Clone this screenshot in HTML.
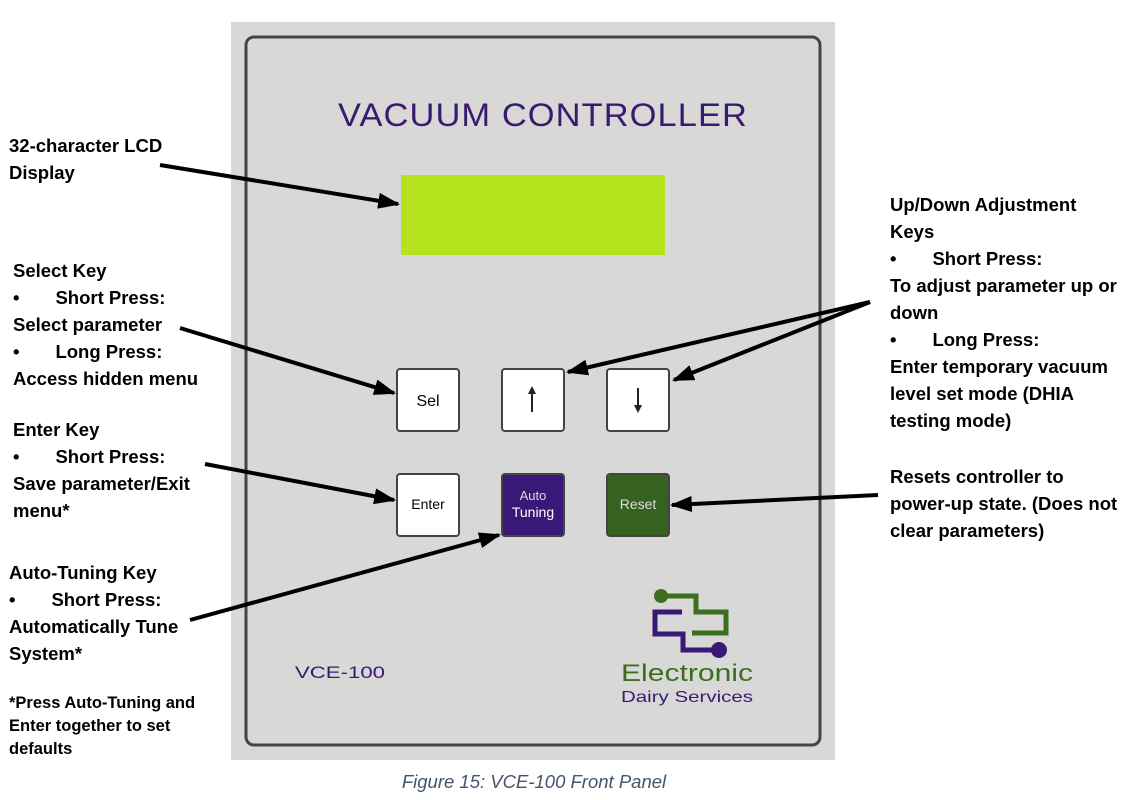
<!DOCTYPE html>
<html><head><meta charset="utf-8"><style>
body{margin:0;width:1136px;height:800px;background:#fff;overflow:hidden;font-family:"Liberation Sans",sans-serif}
.t{position:absolute;font-family:"Liberation Sans",sans-serif;font-weight:bold;font-size:18.5px;line-height:27px;color:#000;white-space:nowrap}
</style></head><body>
<svg width="1136" height="800" style="position:absolute;left:0;top:0">
<defs>
<marker id="b" viewBox="0 0 10 10" markerWidth="22" markerHeight="16" refX="9" refY="5" orient="auto" markerUnits="userSpaceOnUse" preserveAspectRatio="none"><path d="M0,0 L10,5 L0,10 Z" fill="#000"/></marker></defs>
<rect x="231" y="22" width="604" height="738" fill="#d8d8d6"/>
<rect x="246" y="37" width="574" height="708" rx="8" fill="none" stroke="#444" stroke-width="3"/>
<text x="543" y="126" text-anchor="middle" font-family="Liberation Sans" font-size="32" fill="#3a1a70" letter-spacing="1" textLength="410" lengthAdjust="spacingAndGlyphs">VACUUM CONTROLLER</text>
<rect x="401" y="175" width="264" height="80" fill="#b5e41e"/>
<g stroke="#444" stroke-width="2">
<rect x="397" y="369" width="62" height="62" rx="3" fill="#fff"/>
<rect x="502" y="369" width="62" height="62" rx="3" fill="#fff"/>
<rect x="607" y="369" width="62" height="62" rx="3" fill="#fff"/>
<rect x="397" y="474" width="62" height="62" rx="3" fill="#fff"/>
<rect x="502" y="474" width="62" height="62" rx="3" fill="#3a1878"/>
<rect x="607" y="474" width="62" height="62" rx="3" fill="#356221"/>
</g>
<text x="428" y="406" text-anchor="middle" font-size="16" fill="#000">Sel</text>
<line x1="532" y1="391" x2="532" y2="412" stroke="#222" stroke-width="2"/><path d="M528,394 L532,386 L536,394Z" fill="#222"/>
<line x1="638" y1="388" x2="638" y2="408" stroke="#222" stroke-width="2"/><path d="M634,405 L638,413 L642,405Z" fill="#222"/>
<text x="428" y="509" text-anchor="middle" font-size="14" fill="#000">Enter</text>
<text x="533" y="500" text-anchor="middle" font-size="13" fill="#ddd">Auto</text>
<text x="533" y="517" text-anchor="middle" font-size="14" fill="#fff">Tuning</text>
<text x="638" y="509" text-anchor="middle" font-size="14" fill="#ddd">Reset</text>
<g fill="none" stroke-width="5">
<path d="M660,596 H696 V612 H726 V633 H692" stroke="#3c6e1f"/>
<path d="M682,612 H655 V634 H683 V650 H718" stroke="#3a1878"/>
</g>
<circle cx="661" cy="596" r="7" fill="#3c6e1f"/><circle cx="719" cy="650" r="8" fill="#3a1878"/>
<text x="687" y="681" text-anchor="middle" font-size="24" fill="#3c6e1f" textLength="132" lengthAdjust="spacingAndGlyphs">Electronic</text>
<text x="687" y="702" text-anchor="middle" font-size="16" fill="#3a1878" textLength="132" lengthAdjust="spacingAndGlyphs">Dairy Services</text>
<text x="340" y="678" text-anchor="middle" font-size="17" fill="#3a1878" textLength="90" lengthAdjust="spacingAndGlyphs">VCE-100</text>
<g stroke="#000" stroke-width="4" marker-end="url(#b)">
<line x1="160" y1="165" x2="398" y2="204"/>
<line x1="180" y1="328" x2="394" y2="393"/>
<line x1="205" y1="464" x2="394" y2="500"/>
<line x1="190" y1="620" x2="499" y2="535"/>
<line x1="870" y1="302" x2="568" y2="372"/>
<line x1="870" y1="302" x2="674" y2="380"/>
<line x1="878" y1="495" x2="672" y2="505"/>
</g>
</svg>
<div class="t" style="left:9px;top:132px">32-character LCD<br>Display</div>
<div class="t" style="left:13px;top:257px">Select Key<br>•&nbsp;&nbsp;&nbsp;&nbsp;&nbsp;&nbsp;&nbsp;Short Press:<br>Select parameter<br>•&nbsp;&nbsp;&nbsp;&nbsp;&nbsp;&nbsp;&nbsp;Long Press:<br>Access hidden menu</div>
<div class="t" style="left:13px;top:416px">Enter Key<br>•&nbsp;&nbsp;&nbsp;&nbsp;&nbsp;&nbsp;&nbsp;Short Press:<br>Save parameter/Exit<br>menu*</div>
<div class="t" style="left:9px;top:559px">Auto-Tuning Key<br>•&nbsp;&nbsp;&nbsp;&nbsp;&nbsp;&nbsp;&nbsp;Short Press:<br>Automatically Tune<br>System*</div>
<div class="t" style="left:9px;top:692px;font-size:16.5px;line-height:23px">*Press Auto-Tuning and<br>Enter together to set<br>defaults</div>
<div class="t" style="left:890px;top:191px">Up/Down Adjustment<br>Keys<br>•&nbsp;&nbsp;&nbsp;&nbsp;&nbsp;&nbsp;&nbsp;Short Press:<br>To adjust parameter up or<br>down<br>•&nbsp;&nbsp;&nbsp;&nbsp;&nbsp;&nbsp;&nbsp;Long Press:<br>Enter temporary vacuum<br>level set mode (DHIA<br>testing mode)</div>
<div class="t" style="left:890px;top:463px">Resets controller to<br>power-up state. (Does not<br>clear parameters)</div>
<div style="position:absolute;left:0;width:1068px;top:771px;text-align:center;font-style:italic;font-size:18.5px;color:#44546a">Figure 15: VCE-100 Front Panel</div>
</body></html>
